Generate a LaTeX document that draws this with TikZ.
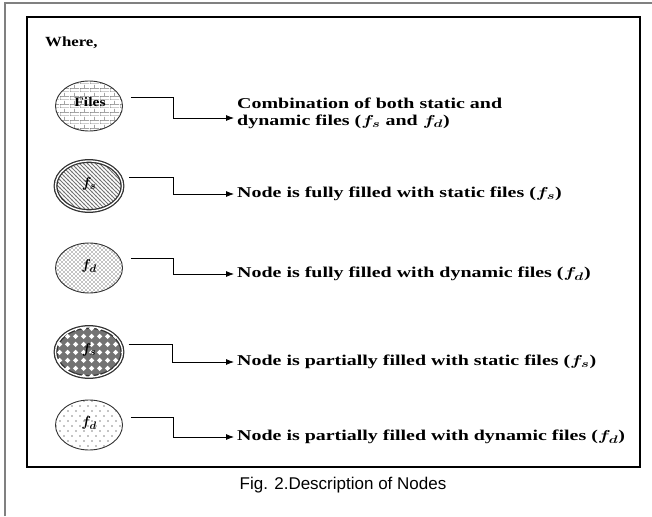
\documentclass[tikz,border=0pt]{standalone}
\usepackage{fontspec}
\setmainfont{Liberation Serif}
\newfontfamily\capfont{Liberation Sans}
\usetikzlibrary{arrows.meta,patterns,shapes.geometric}
\pgfdeclarepatternformonly{smallbricks}{\pgfqpoint{0pt}{0pt}}{\pgfqpoint{10pt}{8pt}}{\pgfqpoint{10pt}{8pt}}{%
  \pgfsetlinewidth{0.6pt}%
  \pgfpathmoveto{\pgfqpoint{0pt}{0pt}}\pgfpathlineto{\pgfqpoint{10pt}{0pt}}%
  \pgfpathmoveto{\pgfqpoint{0pt}{4pt}}\pgfpathlineto{\pgfqpoint{10pt}{4pt}}%
  \pgfpathmoveto{\pgfqpoint{0pt}{0pt}}\pgfpathlineto{\pgfqpoint{0pt}{4pt}}%
  \pgfpathmoveto{\pgfqpoint{5pt}{4pt}}\pgfpathlineto{\pgfqpoint{5pt}{8pt}}%
  \pgfusepath{stroke}}
\pgfdeclarepatternformonly{hatchnw}{\pgfqpoint{-1pt}{-1pt}}{\pgfqpoint{5pt}{5pt}}{\pgfqpoint{4pt}{4pt}}{%
  \pgfsetlinewidth{0.9pt}%
  \pgfpathmoveto{\pgfqpoint{-0.5pt}{4.5pt}}\pgfpathlineto{\pgfqpoint{4.5pt}{-0.5pt}}%
  \pgfusepath{stroke}}
\pgfdeclarepatternformonly{densedots}{\pgfqpoint{-1pt}{-1pt}}{\pgfqpoint{5pt}{5pt}}{\pgfqpoint{4pt}{4pt}}{%
  \pgfpathcircle{\pgfqpoint{0pt}{0pt}}{0.7pt}%
  \pgfpathcircle{\pgfqpoint{2pt}{2pt}}{0.7pt}%
  \pgfusepath{fill}}
\pgfdeclarepatternformonly{sparsedots}{\pgfqpoint{-1pt}{-1pt}}{\pgfqpoint{9pt}{11pt}}{\pgfqpoint{8pt}{10pt}}{%
  \pgfpathcircle{\pgfqpoint{0pt}{0pt}}{0.6pt}%
  \pgfpathcircle{\pgfqpoint{4pt}{5pt}}{0.6pt}%
  \pgfusepath{fill}}
\pgfdeclarepatternformonly{diamondgrid}{\pgfqpoint{0pt}{0pt}}{\pgfqpoint{8pt}{8pt}}{\pgfqpoint{8pt}{8pt}}{%
  \pgfpathmoveto{\pgfqpoint{4pt}{1pt}}%
  \pgfpathlineto{\pgfqpoint{7pt}{4pt}}%
  \pgfpathlineto{\pgfqpoint{4pt}{7pt}}%
  \pgfpathlineto{\pgfqpoint{1pt}{4pt}}%
  \pgfpathclose\pgfusepath{fill}}
\definecolor{rimgray}{gray}{0.2}
\definecolor{patgray}{gray}{0.45}
\newcommand{\wide}[1]{\scalebox{1.33}[1]{#1}}
\begin{document}
\begin{tikzpicture}[x=1pt,y=-1pt,
  blob/.style={ellipse,minimum width=67pt,minimum height=50pt,inner sep=0pt},
  single/.style={draw=rimgray,line width=0.9pt},
  doubled/.style={draw=rimgray,line width=1.3pt,double=white,double distance=1.3pt},
  desc/.style={anchor=west,inner sep=0pt,font=\fontsize{15}{17}\selectfont\bfseries,align=left},
  conn/.style={line width=0.8pt,-{Latex[length=8pt,width=6pt]}},
  inlabel/.style={font=\fontsize{13}{15}\selectfont\bfseries},
  mathlabel/.style={font=\fontsize{15}{17}\selectfont\boldmath}]
\useasboundingbox (0,0) rectangle (652,516);
\draw[gray,line width=1.5pt] (5,516) -- (5,3) -- (652,3);
\draw[line width=2pt] (27,17) rectangle (640,467);
\node[anchor=west,inner sep=0pt,font=\fontsize{14}{16}\selectfont\bfseries] (where) at (45,43) {\scalebox{1.2}[1]{Where,}};
\node[blob,single,pattern=smallbricks,pattern color=patgray] (e1) at (89,106) {};
\node[inlabel] (l1) at (90,102) {\scalebox{1.2}[1]{Files}};
\node[blob,doubled,pattern=hatchnw,pattern color=patgray] (e2) at (89,186) {};
\node[mathlabel] (l2) at (89,184) {$f_s$};
\node[blob,single,pattern=densedots,pattern color=black] (e3) at (89,268) {};
\node[mathlabel] (l3) at (89,266) {$f_d$};
\node[blob,doubled,fill=patgray] (e4b) at (89,352) {};
\node[blob,pattern=diamondgrid,pattern color=white] (e4) at (89,352) {};
\node[mathlabel] (l4) at (89,350) {$f_s$};
\node[blob,single,pattern=sparsedots,pattern color=black] (e5) at (89,425) {};
\node[mathlabel] (l5) at (89,423) {$f_d$};
\node[desc] (t1) at (237,113) {\wide{Combination of both static and}\\\wide{dynamic files (\boldmath$f_s$ and $f_d$)}};
\coordinate (a1) at (234,118);
\node[desc] (t2) at (237,194) {\wide{Node is fully filled with static files (\boldmath$f_s$)}};
\node[desc] (t3) at (237,274) {\wide{Node is fully filled with dynamic files (\boldmath$f_d$)}};
\node[desc] (t4) at (237,362) {\wide{Node is partially filled with static files (\boldmath$f_s$)}};
\node[desc] (t5) at (237,437) {\wide{Node is partially filled with dynamic files (\boldmath$f_d$)}};
\draw[conn] ([xshift=8pt,yshift=9pt]e1.east) -- ++(42,0) |- (a1);
\draw[conn] ([xshift=6pt,yshift=9pt]e2.east) -- ++(44,0) |- ([xshift=-3pt]t2.west);
\draw[conn] ([xshift=8pt,yshift=10pt]e3.east) -- ++(42,0) |- ([xshift=-3pt]t3.west);
\draw[conn] ([xshift=6pt,yshift=8pt]e4.east) -- ++(44,0) |- ([xshift=-3pt]t4.west);
\draw[conn] ([xshift=8pt,yshift=8pt]e5.east) -- ++(42,0) |- ([xshift=-3pt]t5.west);
\node[font=\capfont\fontsize{17}{19}\selectfont] (cap) at (343,485) {Fig. 2.Description of Nodes};
\end{tikzpicture}
\end{document}
